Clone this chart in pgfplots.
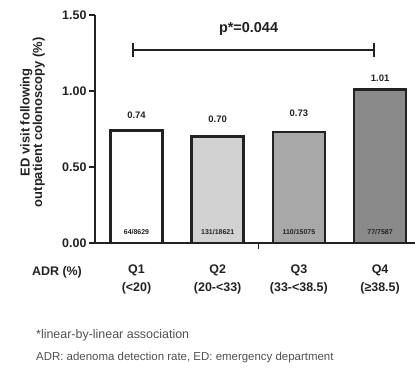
\documentclass[border=0pt]{standalone}
\usepackage{pgfplots}
\pgfplotsset{compat=1.18}
\usepackage{fontspec}
\setmainfont{Liberation Sans}
\definecolor{qtwo}{HTML}{D2D2D2}
\definecolor{qthree}{HTML}{A8A8A8}
\definecolor{qfour}{HTML}{8A8A8A}
\definecolor{ink}{HTML}{222222}
\definecolor{note}{HTML}{505050}
\begin{document}
\begin{tikzpicture}
\useasboundingbox (0,0) rectangle (415bp,376bp);
\begin{axis}[
  at={(95bp,133bp)}, anchor=south west,
  scale only axis, width=320bp, height=228bp,
  xmin=0.489, xmax=4.43, ymin=0, ymax=1.5,
  axis lines=left,
  axis line style={-, line width=2.2bp, ink},
  clip=false,
  tick align=outside,
  major tick length=6bp,
  ytick={0,0.5,1,1.5},
  ytick style={line width=1.8bp, ink},
  y tick label style={/pgf/number format/fixed, /pgf/number format/fixed zerofill, /pgf/number format/precision=2, /pgf/number format/assume math mode=true, font=\fontsize{12.5}{14}\selectfont\bfseries, text=ink, xshift=1bp},
  xtick={1,2,3,4},
  xticklabels={Q1\\(<20), Q2\\(20-<33), Q3\\(33-<38.5), Q4\\(≥38.5)},
  x tick label style={align=center, font=\fontsize{12.5}{18}\selectfont\bfseries, text=ink, yshift=-12bp},
  xtick style={draw=none},
  extra x ticks={2.5}, extra x tick labels={},
  extra x tick style={xtick style={draw=ink, line width=0.8bp}},
  ylabel={ED visit following\\outpatient colonoscopy (\%)},
  ylabel style={align=center, font=\fontsize{13}{12.5}\selectfont\bfseries, text=ink, at={(axis description cs:-0.195,0.53)}, anchor=center},
]
\addplot[ybar, bar width=0.64, bar shift=0pt, fill=white, draw=ink, line width=2.5bp] coordinates {(1,0.74)};
\addplot[ybar, bar width=0.64, bar shift=0pt, fill=qtwo, draw=ink, line width=2.5bp] coordinates {(2,0.70)};
\addplot[ybar, bar width=0.64, bar shift=0pt, fill=qthree, draw=ink, line width=2.5bp] coordinates {(3,0.73)};
\addplot[ybar, bar width=0.64, bar shift=0pt, fill=qfour, draw=ink, line width=2.5bp] coordinates {(4,1.01)};
\addplot[ink, line width=2.2bp, mark=|, mark size=7bp, mark options={line width=2.2bp, solid}] coordinates {(0.96,1.27) (3.926,1.27)};
\node[font=\fontsize{14.5}{16}\selectfont\bfseries, text=ink] at (axis cs:2.38,1.408) {p*=0.044};
\node[font=\fontsize{9.5}{11}\selectfont\bfseries, text=ink] at (axis cs:1,0.842) {0.74};
\node[font=\fontsize{9.5}{11}\selectfont\bfseries, text=ink] at (axis cs:2,0.816) {0.70};
\node[font=\fontsize{9.5}{11}\selectfont\bfseries, text=ink] at (axis cs:3,0.855) {0.73};
\node[font=\fontsize{9.5}{11}\selectfont\bfseries, text=ink] at (axis cs:4,1.086) {1.01};
\node[font=\fontsize{7}{8}\selectfont\bfseries, text=ink] at (axis cs:1,0.072) {64/8629};
\node[font=\fontsize{7}{8}\selectfont\bfseries, text=ink] at (axis cs:2,0.072) {131/18621};
\node[font=\fontsize{7}{8}\selectfont\bfseries, text=ink] at (axis cs:3,0.072) {110/15075};
\node[font=\fontsize{7}{8}\selectfont\bfseries, text=ink] at (axis cs:4,0.072) {77/7587};
\end{axis}
\node[font=\fontsize{12.5}{14}\selectfont\bfseries, text=ink] at (57bp,104bp) {ADR (\%)};
\node[anchor=west, font=\fontsize{12.5}{14}\selectfont, text=note, inner sep=0pt] at (36bp,41bp) {*linear-by-linear association};
\node[anchor=west, font=\fontsize{11.5}{13}\selectfont, text=note, inner sep=0pt] at (36bp,18bp) {ADR: adenoma detection rate, ED: emergency department};
\end{tikzpicture}
\end{document}
